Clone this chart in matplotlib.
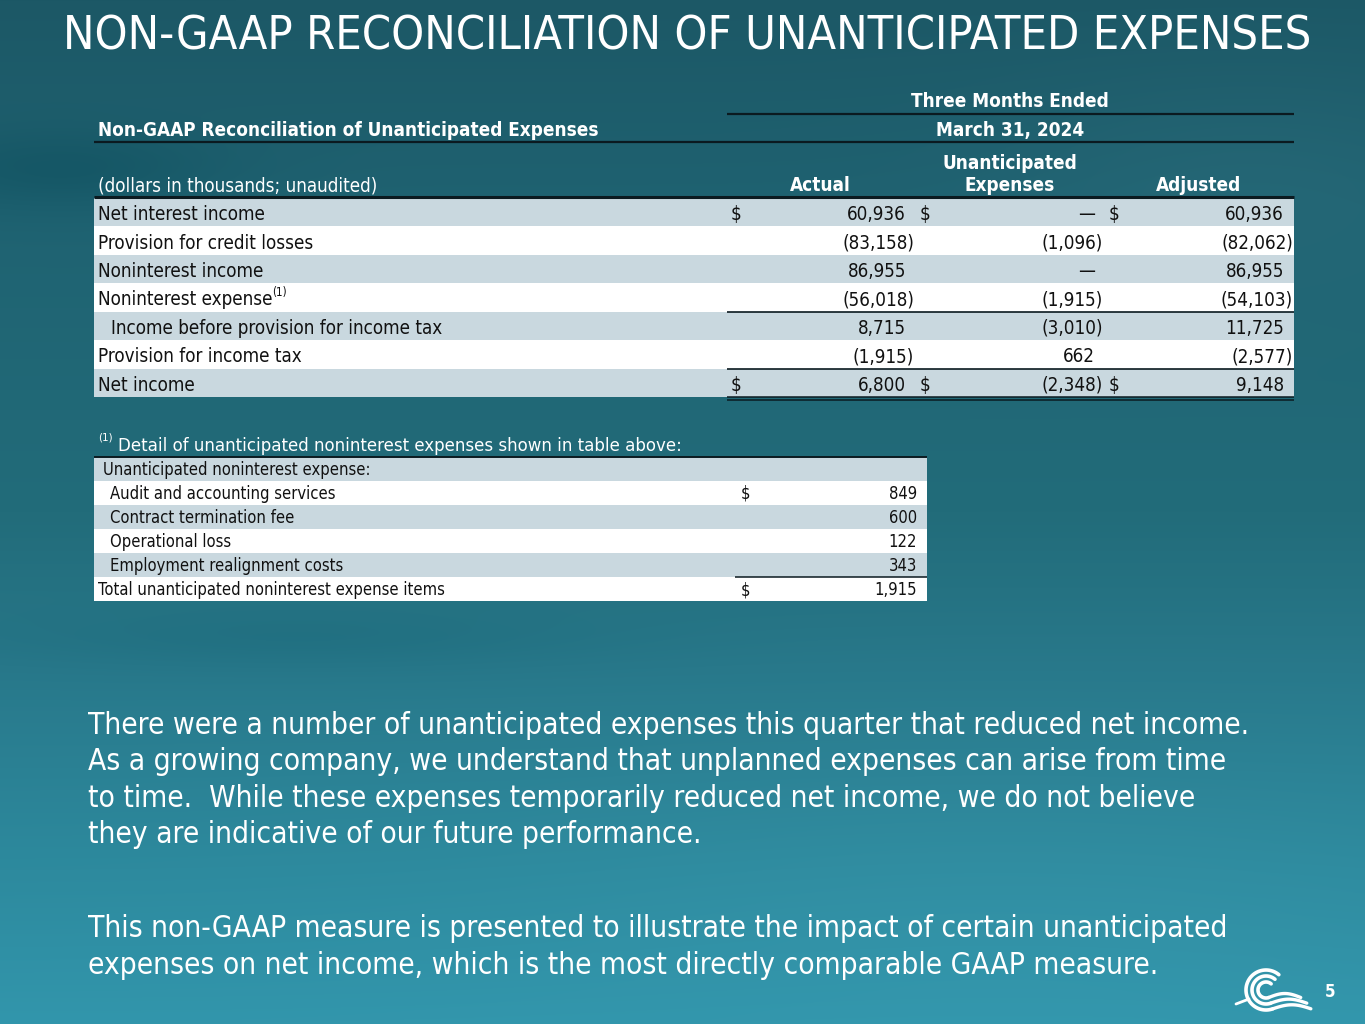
import os
import numpy as np
import matplotlib
matplotlib.use("Agg")
import matplotlib.pyplot as plt
from matplotlib import font_manager as fm
from matplotlib.textpath import TextPath
from matplotlib.patches import Rectangle

# ---------------- data ----------------
title = "NON-GAAP RECONCILIATION OF UNANTICIPATED EXPENSES"
table_title = "Non-GAAP Reconciliation of Unanticipated Expenses"
period_header = ["Three Months Ended", "March 31, 2024"]
units_label = "(dollars in thousands; unaudited)"
col_headers = [["Actual"], ["Unanticipated", "Expenses"], ["Adjusted"]]
row_labels = ["Net interest income", "Provision for credit losses", "Noninterest income",
              "Noninterest expense", "Income before provision for income tax",
              "Provision for income tax", "Net income"]
row_indent = [0, 0, 0, 0, 1, 0, 0]
row_footnote = ["", "", "", "(1)", "", "", ""]
actual = [60936, -83158, 86955, -56018, 8715, -1915, 6800]
unanticipated = [0, -1096, 0, -1915, -3010, 662, -2348]
adjusted = [60936, -82062, 86955, -54103, 11725, -2577, 9148]
dollar_rows = [0, 6]

detail_note = "(1)"
detail_caption = "Detail of unanticipated noninterest expenses shown in table above:"
detail_header = "Unanticipated noninterest expense:"
detail_labels = ["Audit and accounting services", "Contract termination fee",
                 "Operational loss", "Employment realignment costs"]
detail_values = [849, 600, 122, 343]
detail_total_label = "Total unanticipated noninterest expense items"
detail_total = 1915

paragraph_1 = ["There were a number of unanticipated expenses this quarter that reduced net income.",
               "As a growing company, we understand that unplanned expenses can arise from time",
               "to time.  While these expenses temporarily reduced net income, we do not believe",
               "they are indicative of our future performance."]
paragraph_2 = ["This non-GAAP measure is presented to illustrate the impact of certain unanticipated",
               "expenses on net income, which is the most directly comparable GAAP measure."]
page_number = "5"

# ---------------- fonts ----------------
W, H, DPI = 1365, 1024, 100


def font_file(cands, fallback):
    files = {os.path.basename(f.fname): f.fname for f in fm.fontManager.ttflist}
    for c in cands:
        if c in files:
            return fm.FontProperties(fname=files[c])
    return fallback


REG = font_file(["DejaVuSansCondensed.ttf"], fm.FontProperties(family="DejaVu Sans"))
BOLD = font_file(["DejaVuSansCondensed-Bold.ttf"],
                 fm.FontProperties(family="DejaVu Sans", weight="bold"))


def fit(s, target_px, fp):
    w = TextPath((0, 0), s, size=100, prop=fp).get_extents().width
    return target_px / (w / 100.0 * DPI / 72.0)


def text_px(s, fs, fp):
    return TextPath((0, 0), s, size=100, prop=fp).get_extents().width / 100.0 * fs * DPI / 72.0


def fmt(v):
    if v == 0:
        return "\u2014"
    s = f"{abs(v):,}"
    return f"({s})" if v < 0 else s


# ---------------- figure ----------------
fig = plt.figure(figsize=(W / DPI, H / DPI), dpi=DPI)
ax = fig.add_axes([0, 0, 1, 1])
ax.set_xlim(0, W)
ax.set_ylim(H, 0)
ax.axis("off")

# background gradient
yy, xx = np.mgrid[0:H, 0:W]
t = yy / H
stops_t = [0.0, 0.2, 0.5, 0.65, 0.85, 1.0]
stops_c = np.array([[28, 88, 102], [31, 98, 113], [34, 108, 122],
                    [40, 120, 138], [45, 138, 158], [50, 150, 172]]) / 255.0
img = np.zeros((H, W, 3))
for k in range(3):
    img[..., k] = np.interp(t, stops_t, stops_c[:, k])


def blob(cx, cy, sx, sy, amp):
    return amp * np.exp(-(((xx - cx) / sx) ** 2 + ((yy - cy) / sy) ** 2))


shade = (blob(60, 170, 160, 40, -0.035) + blob(1250, 180, 250, 120, 0.02)
         + blob(300, 640, 300, 30, -0.02) + blob(1000, 880, 500, 150, 0.015))
img = np.clip(img + shade[..., None], 0, 1)
ax.imshow(img, extent=(0, W, H, 0), aspect="auto", zorder=0)

WHITE = "white"
DARK = "#0b1a20"
BAND = "#c9d8df"
TXT = "#111111"
kw = dict(parse_math=False)

# title
title_fs = fit(title, 1241, REG)
ax.text(63, 50, title, fontproperties=REG, fontsize=title_fs, color=WHITE,
        ha="left", va="baseline", **kw)

# ---------------- main table ----------------
tab_l, tab_r = 94, 1294
num_l = 727
body_fs = fit("Net interest income", 164, REG)
hdr_fs = fit(table_title, 498, BOLD)

ax.text(1010, 107, period_header[0], fontproperties=BOLD, fontsize=hdr_fs, color=WHITE,
        ha="center", va="baseline", **kw)
ax.text(1010, 136, period_header[1], fontproperties=BOLD, fontsize=hdr_fs, color=WHITE,
        ha="center", va="baseline", **kw)
ax.text(98, 136, table_title, fontproperties=BOLD, fontsize=hdr_fs, color=WHITE,
        ha="left", va="baseline", **kw)
ax.text(98, 191, units_label, fontproperties=REG, fontsize=body_fs, color=WHITE,
        ha="left", va="baseline", **kw)
col_centers = [820, 1010, 1199]
for cx, lines in zip(col_centers, col_headers):
    base = 191
    for j, ln in enumerate(reversed(lines)):
        ax.text(cx, base - 22 * j, ln, fontproperties=BOLD, fontsize=hdr_fs, color=WHITE,
                ha="center", va="baseline", **kw)

ax.plot([num_l, tab_r], [113.5, 113.5], color=DARK, lw=1.6, solid_capstyle="butt", zorder=3)
ax.plot([tab_l, tab_r], [142, 142], color=DARK, lw=1.6, solid_capstyle="butt", zorder=3)
ax.plot([tab_l, tab_r], [197, 197], color=DARK, lw=2.2, solid_capstyle="butt", zorder=3)

row_top = 198
row_h = (397 - row_top) / len(row_labels)
dollar_x = [736, 925, 1114]
value_r = [906, 1095, 1284]
paren_r = [914, 1103, 1293]
cols = [actual, unanticipated, adjusted]
for i, lab in enumerate(row_labels):
    y0 = row_top + i * row_h
    ax.add_patch(Rectangle((tab_l, y0), tab_r - tab_l, row_h,
                           facecolor=BAND if i % 2 == 0 else "white", edgecolor="none", zorder=1))
    base = y0 + row_h * 0.78
    x_lab = 98 + 13 * row_indent[i]
    ax.text(x_lab, base, lab, fontproperties=REG, fontsize=body_fs, color=TXT,
            ha="left", va="baseline", zorder=4, **kw)
    if row_footnote[i]:
        ax.text(x_lab + text_px(lab, body_fs, REG) + 2, base - 9, row_footnote[i],
                fontproperties=REG, fontsize=body_fs * 0.62, color=TXT,
                ha="left", va="baseline", zorder=4, **kw)
    for c in range(3):
        v = cols[c][i]
        s = fmt(v)
        xr = paren_r[c] if v < 0 else value_r[c]
        ax.text(xr, base, s, fontproperties=REG, fontsize=body_fs, color=TXT,
                ha="right", va="baseline", zorder=4, **kw)
        if i in dollar_rows:
            ax.text(dollar_x[c], base, "$", fontproperties=REG, fontsize=body_fs, color=TXT,
                    ha="center", va="baseline", zorder=4, **kw)

# underlines
for i in (3, 5):
    yb = row_top + (i + 1) * row_h
    ax.plot([num_l, tab_r], [yb, yb], color=DARK, lw=1.2, solid_capstyle="butt", zorder=3)
yb = row_top + len(row_labels) * row_h
ax.plot([num_l, tab_r], [yb, yb], color=DARK, lw=1.1, solid_capstyle="butt", zorder=3)
ax.plot([num_l, tab_r], [yb + 3, yb + 3], color=DARK, lw=1.1, solid_capstyle="butt", zorder=3)

# ---------------- detail table ----------------
d_l, d_r = 94, 927
cap_fs = fit(detail_caption, 559, REG)
det_fs = fit("Audit and accounting services", 224, REG)
ax.text(98, 440, detail_note, fontproperties=REG, fontsize=cap_fs * 0.62, color=WHITE,
        ha="left", va="baseline", **kw)
ax.text(118, 451, detail_caption, fontproperties=REG, fontsize=cap_fs, color=WHITE,
        ha="left", va="baseline", **kw)

d_rows = [(detail_header, None, 0)] + [(l, v, 1) for l, v in zip(detail_labels, detail_values)] \
    + [(detail_total_label, detail_total, 0)]
d_top = 456.5
d_h = (601 - d_top) / len(d_rows)
for i, (lab, val, ind) in enumerate(d_rows):
    y0 = d_top + i * d_h
    ax.add_patch(Rectangle((d_l, y0), d_r - d_l, d_h,
                           facecolor=BAND if i % 2 == 0 else "white", edgecolor="none", zorder=1))
    base = y0 + d_h * 0.76
    x_lab = (103 if i == 0 else 98) + 12 * ind
    ax.text(x_lab, base, lab, fontproperties=REG, fontsize=det_fs, color=TXT,
            ha="left", va="baseline", zorder=4, **kw)
    if val is not None:
        ax.text(917, base, f"{val:,}", fontproperties=REG, fontsize=det_fs, color=TXT,
                ha="right", va="baseline", zorder=4, **kw)
        if i in (1, len(d_rows) - 1):
            ax.text(746, base, "$", fontproperties=REG, fontsize=det_fs, color=TXT,
                    ha="center", va="baseline", zorder=4, **kw)
ax.plot([d_l, d_r], [d_top, d_top], color=DARK, lw=1.4, solid_capstyle="butt", zorder=3)
yt = d_top + (len(d_rows) - 1) * d_h
ax.plot([735, d_r], [yt, yt], color=DARK, lw=1.1, solid_capstyle="butt", zorder=3)

# ---------------- paragraphs ----------------
para_fs = fit(paragraph_1[0], 1159, REG)
for j, ln in enumerate(paragraph_1):
    ax.text(88, 734 + 36.3 * j, ln, fontproperties=REG, fontsize=para_fs, color=WHITE,
            ha="left", va="baseline", **kw)
for j, ln in enumerate(paragraph_2):
    ax.text(88, 937 + 37 * j, ln, fontproperties=REG, fontsize=para_fs, color=WHITE,
            ha="left", va="baseline", **kw)

# ---------------- logo and page number ----------------
cx, cy = 1266, 990
for r, tail in ((20, 38), (14, 36), (8, 32)):
    th = np.linspace(np.radians(50), np.radians(290), 80)
    xs = cx + r * np.cos(th)
    ys = cy - r * np.sin(th)
    ax.plot(xs, ys, color=WHITE, lw=2.6, solid_capstyle="round", zorder=5)
    tx = np.linspace(xs[-1], xs[-1] + tail, 30)
    ty = ys[-1] - 4 * np.sin((tx - tx[0]) / tail * np.pi)
    ax.plot(tx, ty, color=WHITE, lw=2.4, solid_capstyle="round", zorder=5)
ax.plot([1236, 1249], [1004, 999], color=WHITE, lw=2.0, solid_capstyle="round", zorder=5)
ax.text(1330, 997, page_number, fontproperties=BOLD, fontsize=12, color=WHITE,
        ha="center", va="baseline", **kw)

fig.savefig("out.png", dpi=DPI)
